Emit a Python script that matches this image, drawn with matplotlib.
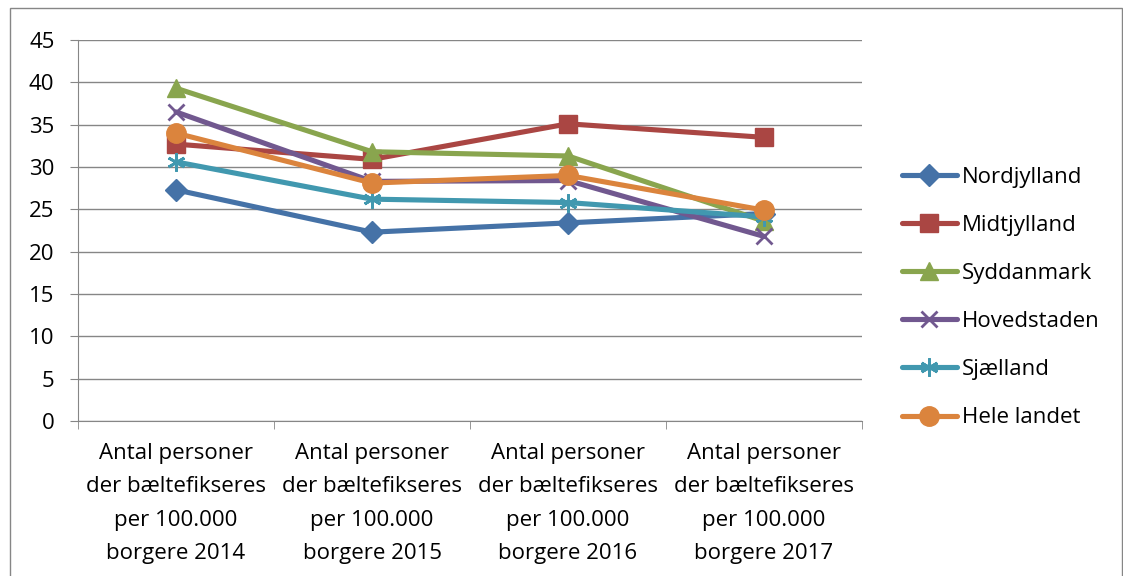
import matplotlib.pyplot as plt

plt.rcParams['font.family'] = ['Open Sans', 'DejaVu Sans']

categories = ['Antal personer\nder bæltefikseres\nper 100.000\nborgere 2014',
              'Antal personer\nder bæltefikseres\nper 100.000\nborgere 2015',
              'Antal personer\nder bæltefikseres\nper 100.000\nborgere 2016',
              'Antal personer\nder bæltefikseres\nper 100.000\nborgere 2017']

nordjylland = [27.3, 22.3, 23.4, 24.5]
midtjylland = [32.7, 30.9, 35.1, 33.5]
syddanmark = [39.3, 31.8, 31.3, 23.6]
hovedstaden = [36.5, 28.3, 28.4, 21.8]
sjaelland = [30.6, 26.2, 25.8, 24.1]
hele_landet = [34.0, 28.1, 29.0, 24.9]

series = [
    ('Nordjylland', nordjylland, '#4572A7', 'D', 11),
    ('Midtjylland', midtjylland, '#AA4643', 's', 12.5),
    ('Syddanmark', syddanmark, '#89A54E', '^', 13.5),
    ('Hovedstaden', hovedstaden, '#71588F', 'x', 12),
    ('Sjælland', sjaelland, '#4198AF', (6, 2, 0), 13),
    ('Hele landet', hele_landet, '#DB843D', 'o', 14),
]

fs = 16

fig = plt.figure(figsize=(11.23, 5.76), dpi=100)
fig.patches.append(plt.Rectangle((0.009, -0.01), 0.99, 0.996, transform=fig.transFigure,
                                 fill=False, edgecolor='#868686', linewidth=1))
ax = fig.add_axes([0.0695, 0.2691, 0.6981, 0.6615])

x = range(len(categories))
handles = []
for name, vals, color, marker, ms in series:
    mew = 2 if marker in ('x', (6, 2, 0)) else 1
    ln, = ax.plot(x, vals, color=color, linewidth=3.7, marker=marker, markersize=ms,
                  markeredgecolor=color, markerfacecolor=color, markeredgewidth=mew,
                  label=name, solid_capstyle='round')
    handles.append(ln)

ax.set_xlim(-0.5, 3.5)
ax.set_ylim(0, 45)
ax.set_yticks(range(0, 46, 5))
ax.grid(axis='y', color='#868686', linewidth=1)
ax.set_axisbelow(True)
for side in ('top', 'right'):
    ax.spines[side].set_visible(False)
for side in ('left', 'bottom'):
    ax.spines[side].set_color('#868686')
ax.tick_params(axis='y', length=6, color='#868686', labelsize=fs, pad=11)
ax.set_xticks([0, 1, 2, 3])
ax.set_xticklabels(categories, fontsize=fs, linespacing=1.76)
ax.tick_params(axis='x', length=0, pad=16)
ax.set_xticks([-0.5, 0.5, 1.5, 2.5, 3.5], minor=True)
ax.tick_params(axis='x', which='minor', length=6, color='#868686')

ax.legend(handles=handles, loc='center left', bbox_to_anchor=(1.025, 0.324), frameon=False,
          fontsize=fs, labelspacing=1.22, handlelength=2.5, handletextpad=0.2)

fig.savefig('out.png', dpi=100)
